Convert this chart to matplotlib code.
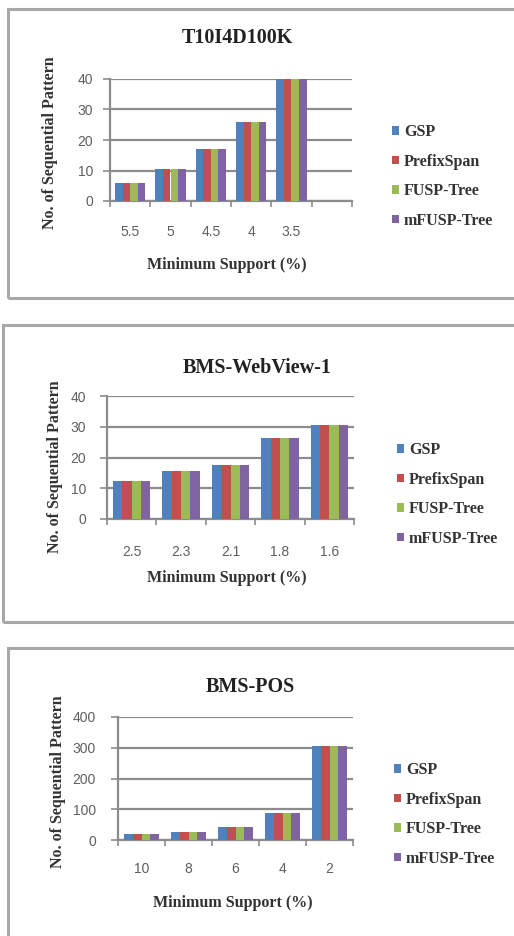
import matplotlib
matplotlib.use("Agg")
import matplotlib.pyplot as plt
from matplotlib.patches import Rectangle
import numpy as np

# ---------------- data ----------------
series = ["GSP", "PrefixSpan", "FUSP-Tree", "mFUSP-Tree"]
colors = ["#4F81BD", "#C0504D", "#9BBB59", "#8064A2"]

title1 = "T10I4D100K"
support1 = ["5.5", "5", "4.5", "4", "3.5"]
gsp1 = [6, 10.5, 17, 26, 40]
prefix1 = [6, 10.5, 17, 26, 40]
fusp1 = [6, 10.5, 17, 26, 40]
mfusp1 = [6, 10.5, 17, 26, 40]
yticks1 = [0, 10, 20, 30, 40]

title2 = "BMS-WebView-1"
support2 = ["2.5", "2.3", "2.1", "1.8", "1.6"]
gsp2 = [12.5, 15.5, 17.5, 26.5, 30.5]
prefix2 = [12.5, 15.5, 17.5, 26.5, 30.5]
fusp2 = [12.5, 15.5, 17.5, 26.5, 30.5]
mfusp2 = [12.5, 15.5, 17.5, 26.5, 30.5]
yticks2 = [0, 10, 20, 30, 40]

title3 = "BMS-POS"
support3 = ["10", "8", "6", "4", "2"]
gsp3 = [20, 27, 41, 87, 305]
prefix3 = [20, 27, 41, 87, 305]
fusp3 = [20, 27, 41, 87, 305]
mfusp3 = [20, 27, 41, 87, 305]
yticks3 = [0, 100, 200, 300, 400]

ylabel = "No. of Sequential Pattern"
xlabel = "Minimum Support (%)"

# ---------------- layout ----------------
W, H = 514, 936
fig = plt.figure(figsize=(W / 100, H / 100), dpi=100)
fig.patch.set_facecolor("white")

SERIF = ["Liberation Serif", "DejaVu Serif"]
SANS = ["Liberation Sans", "DejaVu Sans"]
GRID = "#8c8c8c"


def fx(x):
    return x / W


def fy(y):
    return 1 - y / H


def border(l, t, r, b):
    fig.add_artist(Rectangle((fx(l), fy(b)), fx(r) - fx(l), fy(t) - fy(b),
                             transform=fig.transFigure, fill=False,
                             edgecolor="#a8a8a8", linewidth=2.2, clip_on=False))


def panel(box, nslots, cats, data, yticks, title, title_xy, ylab_xy, xlab_xy,
          leg_xy, xpad, ypad, legspacing):
    l, t, r, b = box
    ax = fig.add_axes([fx(l), fy(b), fx(r) - fx(l), fy(t) - fy(b)])
    x = np.arange(len(cats))
    n = len(data)
    gw = 0.76
    bw = gw / n
    handles = []
    for i, (vals, c, name) in enumerate(zip(data, colors, series)):
        hnd = ax.bar(x - gw / 2 + bw * (i + 0.5), vals, width=bw, color=c,
                     label=name, zorder=3, linewidth=0)
        handles.append(hnd)
    ax.set_xlim(-0.5, nslots - 0.5)
    ax.set_ylim(yticks[0], yticks[-1])
    ax.set_yticks(yticks)
    ax.set_yticklabels([str(v) for v in yticks], fontfamily=SANS, fontsize=10,
                       color="#5f5f5f")
    ax.set_xticks(x)
    ax.set_xticklabels(cats, fontfamily=SANS, fontsize=10, color="#5f5f5f")
    ax.set_xticks(np.arange(nslots + 1) - 0.5, minor=True)
    ax.tick_params(axis="x", which="major", length=0, pad=xpad)
    ax.tick_params(axis="x", which="minor", length=4, width=1.2, color=GRID,
                   direction="out")
    ax.tick_params(axis="y", length=5, width=1.2, color=GRID, pad=ypad)
    ax.yaxis.grid(True, color=GRID, linewidth=1.6, zorder=0)
    ax.set_axisbelow(True)
    for s in ["top", "right"]:
        ax.spines[s].set_visible(False)
    for s in ["left", "bottom"]:
        ax.spines[s].set_color(GRID)
        ax.spines[s].set_linewidth(1.6)
    ax.set_facecolor("none")

    fig.text(fx(title_xy[0]), fy(title_xy[1]), title, fontfamily=SERIF,
             fontweight="bold", fontsize=14.5, ha="center", va="center",
             color="#222222")
    fig.text(fx(ylab_xy[0]), fy(ylab_xy[1]), ylabel, fontfamily=SERIF,
             fontweight="bold", fontsize=11.5, ha="center", va="center",
             rotation=90, color="#333333")
    fig.text(fx(xlab_xy[0]), fy(xlab_xy[1]), xlabel, fontfamily=SERIF,
             fontweight="bold", fontsize=11.5, ha="center", va="center",
             color="#333333")
    leg = fig.legend(handles=handles, labels=series, loc="upper left",
                     bbox_to_anchor=(fx(leg_xy[0]), fy(leg_xy[1])),
                     bbox_transform=fig.transFigure, frameon=False,
                     prop={"family": SERIF, "weight": "bold", "size": 11.5},
                     handlelength=0.45, handleheight=0.45, handletextpad=0.3,
                     labelspacing=legspacing, borderaxespad=0, borderpad=0)
    for txt in leg.get_texts():
        txt.set_color("#333333")
    return ax


# panel borders
border(8, 9, 520, 298)
border(3, 325, 520, 622)
border(8, 648, 520, 945)

panel((110, 79, 352, 201), 6, support1, [gsp1, prefix1, fusp1, mfusp1],
      yticks1, title1, (237, 38), (50, 143), (227, 265), (392, 124),
      xpad=17, ypad=7, legspacing=0.85)
panel((107, 396, 354, 519), 5, support2, [gsp2, prefix2, fusp2, mfusp2],
      yticks2, title2, (257, 368), (55, 467), (227, 578), (397, 442),
      xpad=19, ypad=10, legspacing=0.85)
panel((118, 717, 353, 840), 5, support3, [gsp3, prefix3, fusp3, mfusp3],
      yticks3, title3, (250, 687), (58, 782), (233, 903), (394, 762),
      xpad=16, ypad=11, legspacing=0.85)

fig.savefig("out.png", dpi=100, facecolor="white")
